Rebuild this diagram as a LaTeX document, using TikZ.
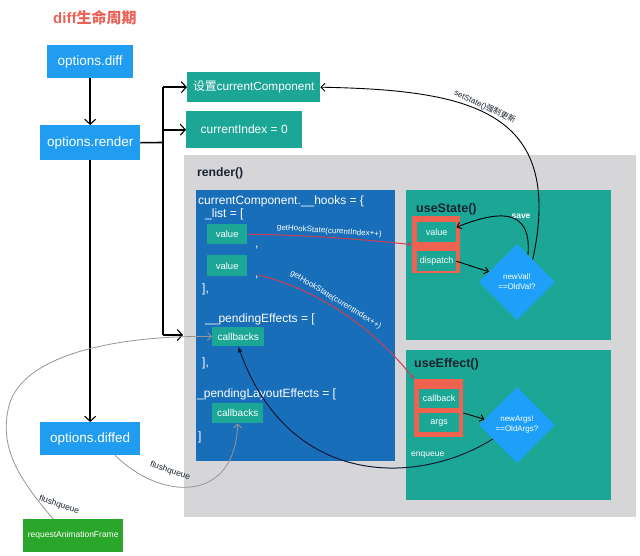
\documentclass[tikz,border=0pt]{standalone}
\usepackage{fontspec}
\setmainfont{Liberation Sans}
\newfontfamily\cjk{Noto Sans CJK SC}
\usetikzlibrary{arrows.meta,shapes.geometric}
\definecolor{optblue}{RGB}{32,156,240}
\definecolor{teal1}{RGB}{27,166,150}
\definecolor{codeblue}{RGB}{24,110,184}
\definecolor{rendergray}{RGB}{214,213,216}
\definecolor{redbox}{RGB}{240,98,80}
\definecolor{rafgreen}{RGB}{42,166,42}
\definecolor{diablue}{RGB}{30,160,250}
\definecolor{titlered}{RGB}{234,98,88}
\definecolor{darktxt}{RGB}{25,35,50}
\definecolor{curvegray}{RGB}{150,150,150}
\definecolor{redline}{RGB}{205,62,85}
\definecolor{navy}{RGB}{15,25,55}
\begin{document}
\begin{tikzpicture}[x=1pt,y=-1pt,
  fs/.style={font=\fontsize{#1}{#1}\selectfont},
  fsb/.style={font=\fontsize{#1}{#1}\selectfont\bfseries},
  rbox/.style={inner sep=0pt, anchor=north west},
  optbox/.style={rbox, fill=optblue, text=white, fs=13.5},
  tealbox/.style={rbox, fill=teal1, text=white},
  codetxt/.style={text=white, fs=12, anchor=base west, inner sep=0pt},
  hand/.style={draw=black, line width=1.6pt, -{Straight Barb[length=5pt,width=11pt,line width=1.1pt]}},
  thinarrow/.style={draw=black, line width=0.9pt, -{Straight Barb[length=4pt,width=7pt]}},
  redcurve/.style={draw=redline, line width=1pt, -{Latex[length=4pt,width=4pt]}},
  graycurve/.style={draw=curvegray, line width=0.8pt, -{Straight Barb[length=4pt,width=8pt]}},
  lab/.style={inner sep=1pt, fs=8, text=darktxt},
  dia/.style={diamond, fill=diablue, minimum width=76pt, minimum height=76pt, inner sep=0pt, text=white, align=center, font=\fontsize{8}{10}\selectfont},
]
\useasboundingbox (0,0) rectangle (640,555);
\fill[white] (0,0) rectangle (640,555);

% title
\node[text=titlered, fsb=15, anchor=west, inner sep=0pt] (title) at (53,18) {diff{\cjk\bfseries 生命周期}};

% left column
\node[optbox, minimum width=86pt, minimum height=33pt] (diff) at (47,45) {options.diff};
\node[optbox, minimum width=100pt, minimum height=35pt] (render) at (40,125) {options.render};
\node[optbox, minimum width=100pt, minimum height=33pt] (diffed) at (40,422) {options.diffed};
\node[rbox, fill=rafgreen, text=white, fs=8.5, minimum width=100pt, minimum height=33pt] (raf) at (23,519) {requestAnimationFrame};

% top teal boxes
\node[tealbox, fs=11.8, minimum width=133pt, minimum height=30pt] (setcc) at (187,72) {{\cjk 设置}currentComponent};
\node[tealbox, fs=12, minimum width=116pt, minimum height=37pt] (cidx) at (186,111) {currentIndex = 0};

% render area
\node[rbox, fill=rendergray, minimum width=452pt, minimum height=362pt] (rb) at (184,155) {};
\node[anchor=base west, inner sep=0pt, fsb=12.2, text=darktxt] (rbt) at (197,176) {render()};

% code block
\node[rbox, fill=codeblue, minimum width=199pt, minimum height=271pt] (cb) at (196,190) {};
\node[codetxt] (l1) at (198,204) {currentComponent.\_\_hooks = \{};
\node[codetxt] (l2) at (205,217) {\_list = [};
\node[tealbox, fs=9.5, minimum width=40pt, minimum height=20pt] (v1) at (207,224) {value};
\node[codetxt] (c1) at (255,247) {,};
\node[tealbox, fs=9.5, minimum width=40pt, minimum height=21pt] (v2) at (207,255) {value};
\node[codetxt] (c2) at (255,277) {,};
\node[codetxt] (l3) at (202,292) {],};
\node[codetxt] (l4) at (205,322) {\_\_pendingEffects = [};
\node[tealbox, fs=10, minimum width=52pt, minimum height=19pt] (cb1) at (212,327) {callbacks};
\node[codetxt] (l5) at (202,366) {],};
\node[codetxt] (l6) at (197,397) {\_pendingLayoutEffects = [};
\node[tealbox, fs=10, minimum width=51pt, minimum height=20pt] (cb2) at (212,403) {callbacks};
\node[codetxt] (l7) at (198,440) {]};

% useState
\node[rbox, fill=teal1, minimum width=205pt, minimum height=150pt] (us) at (406,190) {};
\node[anchor=base west, inner sep=0pt, fsb=12.5, text=darktxt] (ust) at (416,212) {useState()};
\node[rbox, fill=redbox, minimum width=48pt, minimum height=57pt] (rS) at (412,216) {};
\node[tealbox, fs=9, minimum width=39pt, minimum height=20pt] (sval) at (417,222) {value};
\node[tealbox, fs=9, minimum width=39pt, minimum height=20pt] (sdis) at (417,251) {dispatch};
\node[dia] (dS) at (517,282) {newVal!\\==OldVal?};
\node[text=white, fsb=8.5, inner sep=0pt] (save) at (521,216) {save};

% useEffect
\node[rbox, fill=teal1, minimum width=205pt, minimum height=150pt] (ue) at (406,350) {};
\node[anchor=base west, inner sep=0pt, fsb=12.5, text=darktxt] (uet) at (414,367) {useEffect()};
\node[rbox, fill=redbox, minimum width=49pt, minimum height=58pt] (rE) at (414,379) {};
\node[tealbox, fs=9, minimum width=40pt, minimum height=19pt] (ecb) at (419,389) {callback};
\node[tealbox, fs=9, minimum width=40pt, minimum height=19pt] (eargs) at (419,413) {args};
\node[dia] (dE) at (517,425) {newArgs!\\==OldArgs?};
\node[text=white, fs=8.5, anchor=west, inner sep=0pt] (enq) at (411,455) {enqueue};

% left hand-drawn arrows
\draw[hand] (diff.south) -- (render.north);
\draw[hand] (render.south) -- (diffed.north);
\coordinate (brk) at (163,142.5);
\coordinate (cbarr) at (183,335);
\draw[line width=1.6pt] (render.east) -- (brk);
\draw[line width=1.6pt] (brk |- setcc.west) -- (brk |- cbarr);
\draw[hand] (brk |- setcc.west) -- (setcc.west);
\draw[hand] (brk |- cidx.west) -- (cidx.west);
\draw[hand] (brk |- cbarr) -- (cbarr);

% red curves
\draw[redcurve] (v1.east) .. controls (310,235) and (370,240) .. (rS.west)
  node[pos=0.45, above=1pt, sloped, text=white, fs=8, inner sep=1pt] {getHookState(curentIndex++)};
\draw[redcurve] ([yshift=2pt]c2.east) .. controls (320,290) and (375,330) .. (rE.north west)
  node[pos=0.42, above=2pt, sloped, text=white, fs=8, inner sep=1pt] {getHookState(curentIndex++)};

% useState arrows
\draw[thinarrow] (sdis.east) -- (dS.160);
\draw[thinarrow] (dS.68) .. controls (532,205) and (495,212) .. ([yshift=5pt]sval.east);
\draw[black, line width=0.9pt, {Straight Barb[length=4pt,width=8pt]}-] (setcc.east) .. controls (470,90) and (565,110) .. (dS.55)
  node[pos=0.45, above, sloped, lab] {setState(){\cjk 强制更新}};

% useEffect arrows
\draw[thinarrow] (rE.east |- eargs.north) -- (dE.170);
\draw[navy, line width=1pt, -{Latex[length=6pt,width=5pt]}] (dE.210) .. controls (420,485) and (290,490) .. (cb1.south);

% gray flush curves
\draw[graycurve] ([xshift=25pt]diffed.south) .. controls (160,500) and (235,505) .. (cb2.south);
\node[lab, fs=8.5, rotate=-18] (fq1) at (170,471) {flushqueue};
\draw[graycurve] ([xshift=-20pt]raf.north) .. controls (20,480) and (0,450) .. (8,410)
  .. controls (20,345) and (150,335) .. (cb1.west);
\node[lab, fs=8.5, rotate=-18] (fq2) at (59,505) {flushqueue};
\end{tikzpicture}
\end{document}
